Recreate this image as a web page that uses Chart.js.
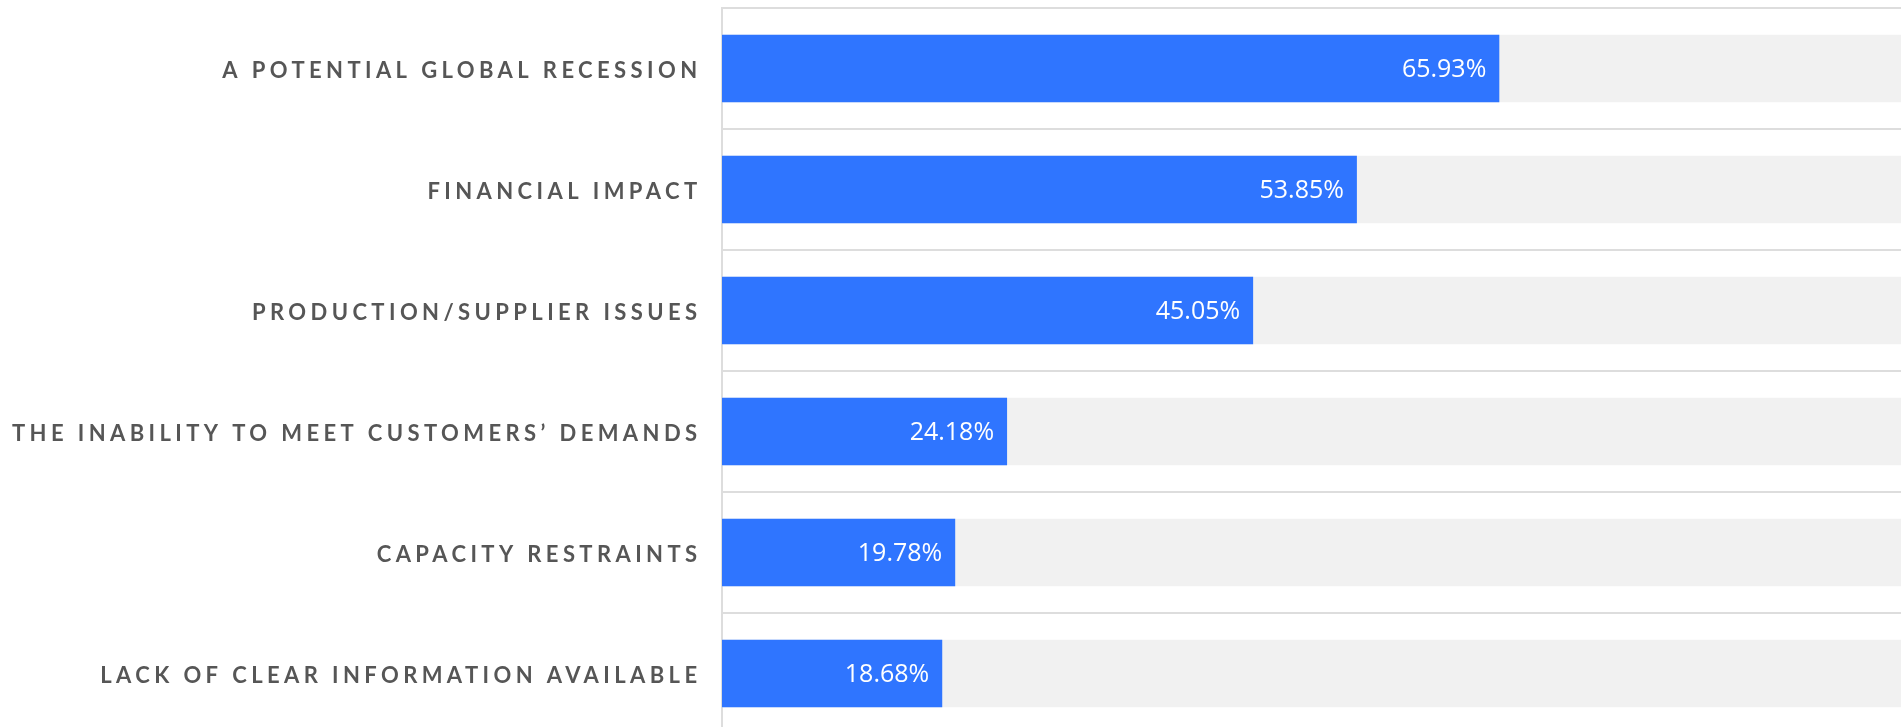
<!DOCTYPE html>
<html>
<head>
<meta charset="utf-8">
<script src="https://cdn.jsdelivr.net/npm/chart.js@4/dist/chart.umd.min.js"></script>
<style>
  html, body { margin: 0; padding: 0; overflow: hidden; background: #ffffff; }
  canvas { display: block; }
</style>
</head>
<body>
<canvas id="chart" width="1904" height="736"></canvas>
<script>
const categories = [
  "A POTENTIAL GLOBAL RECESSION",
  "FINANCIAL IMPACT",
  "PRODUCTION/SUPPLIER ISSUES",
  "THE INABILITY TO MEET CUSTOMERS\u2019 DEMANDS",
  "CAPACITY RESTRAINTS",
  "LACK OF CLEAR INFORMATION AVAILABLE"
];
const shareValues = [65.93, 53.85, 45.05, 24.18, 19.78, 18.68];
const trackValues = [100, 100, 100, 100, 100, 100];
const axisMin = 0;
const axisMax = 100;

const LABEL_SPACING = '4.4px';

const spacingPlugin = {
  id: 'spacing',
  beforeDraw(chart) { chart.ctx.letterSpacing = LABEL_SPACING; },
  beforeDatasetsDraw(chart) { chart.ctx.letterSpacing = '0px'; }
};

const valueLabelPlugin = {
  id: 'valueLabels',
  afterDatasetsDraw(chart) {
    const ctx = chart.ctx;
    const meta = chart.getDatasetMeta(0);
    ctx.save();
    ctx.letterSpacing = '0px';
    ctx.fillStyle = '#ffffff';
    ctx.font = '400 25px "Open Sans"';
    ctx.textAlign = 'right';
    ctx.textBaseline = 'middle';
    meta.data.forEach((bar, i) => {
      ctx.fillText(shareValues[i].toFixed(2) + '%', bar.x - 13, bar.y + 1.5);
    });
    ctx.restore();
  }
};

new Chart(document.getElementById('chart'), {
  type: 'bar',
  data: {
    labels: categories,
    datasets: [
      {
        data: shareValues,
        backgroundColor: '#2f75ff',
        borderWidth: 0,
        order: 0,
        grouped: false,
        barPercentage: 0.558,
        categoryPercentage: 1
      },
      {
        data: trackValues,
        backgroundColor: '#f1f1f1',
        borderWidth: 0,
        order: 1,
        grouped: false,
        barPercentage: 0.558,
        categoryPercentage: 1
      }
    ]
  },
  options: {
    indexAxis: 'y',
    responsive: false,
    devicePixelRatio: 1,
    animation: false,
    layout: { padding: { top: 8, right: 3, bottom: 2, left: 0 } },
    plugins: {
      legend: { display: false },
      tooltip: { enabled: false }
    },
    scales: {
      x: {
        display: false,
        min: axisMin,
        max: axisMax
      },
      y: {
        afterFit(scale) {
          scale.width = 722;
          scale.paddingTop = 0;
          scale.paddingBottom = 0;
        },
        grid: {
          offset: true,
          color: '#dddddd',
          lineWidth: 2,
          drawTicks: false
        },
        border: { display: true, color: '#dddddd', width: 2 },
        ticks: {
          color: '#565656',
          padding: 20.5,
          labelOffset: 2,
          font: { family: 'Lato', weight: 'bold', size: 22 }
        }
      }
    }
  },
  plugins: [spacingPlugin, valueLabelPlugin]
});
</script>
</body>
</html>
